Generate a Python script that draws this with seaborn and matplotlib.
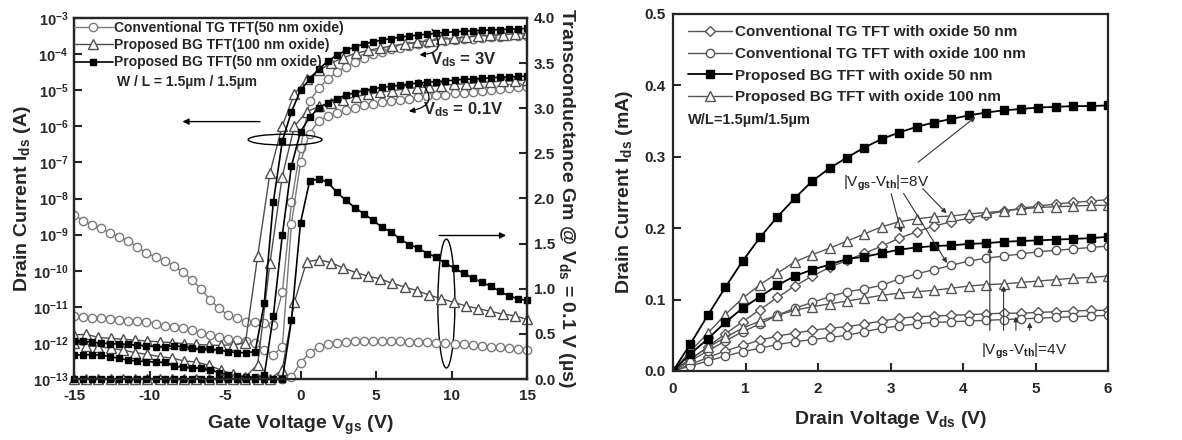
import numpy as np
import pandas as pd
import matplotlib
matplotlib.use("Agg")
import matplotlib.pyplot as plt
import seaborn as sns
from matplotlib.lines import Line2D
from matplotlib.patches import Ellipse

sns.set_theme(style="ticks")
plt.rcParams['font.family'] = ['Liberation Sans', 'DejaVu Sans']
plt.rcParams['font.weight'] = 'bold'
plt.rcParams['mathtext.fontset'] = 'custom'
plt.rcParams['mathtext.rm'] = 'Liberation Sans:bold'
plt.rcParams['mathtext.it'] = 'Liberation Sans:bold'
plt.rcParams['mathtext.bf'] = 'Liberation Sans:bold'
plt.rcParams['mathtext.sf'] = 'Liberation Sans'
plt.rcParams['axes.unicode_minus'] = False

# ---------------- Left panel data ----------------
vgs_c = np.linspace(-15, 15, 51)   # circles / squares sampling (0.6 V)
vgs_t = np.linspace(-15, 15, 38)   # triangles sampling (~0.8 V)

# log10(Ids [A])
tg_3v = [-8.46, -8.61, -8.73, -8.83, -8.95, -9.06, -9.17, -9.35, -9.5, -9.63,
         -9.72, -9.87, -10.03, -10.26, -10.5, -10.8, -11.04, -11.23, -11.32, -11.41,
         -11.43, -11.46, -11.5, -10.6, -8.1, -6.6, -5.3, -4.95, -4.7, -4.5,
         -4.35, -4.22, -4.1, -4.0, -3.93, -3.87, -3.82, -3.77, -3.73, -3.69,
         -3.66, -3.63, -3.61, -3.59, -3.57, -3.55, -3.54, -3.52, -3.51, -3.5, -3.49]
tg_01v = [-11.25, -11.27, -11.3, -11.32, -11.35, -11.37, -11.39, -11.4, -11.41, -11.47,
          -11.53, -11.56, -11.6, -11.65, -11.72, -11.77, -11.83, -11.88, -11.92, -11.96,
          -12.01, -12.2, -12.33, -12.1, -8.7, -7.0, -6.2, -5.85, -5.72, -5.63,
          -5.55, -5.48, -5.42, -5.37, -5.33, -5.29, -5.26, -5.23, -5.2, -5.17,
          -5.14, -5.12, -5.09, -5.07, -5.04, -5.02, -4.99, -4.97, -4.94, -4.92, -4.9]
bg50_3v = [-11.94, -11.96, -11.98, -12.01, -12.02, -12.03, -12.04, -12.06, -12.08, -12.1,
           -12.1, -12.08, -12.1, -12.15, -12.16, -12.17, -12.2, -12.24, -12.27, -12.27,
           -12.24, -10.9, -8.1, -6.4, -5.6, -5.0, -4.7, -4.42, -4.2, -4.03,
           -3.9, -3.8, -3.72, -3.66, -3.61, -3.57, -3.53, -3.5, -3.47, -3.45,
           -3.42, -3.4, -3.38, -3.37, -3.35, -3.34, -3.33, -3.32, -3.31, -3.3, -3.29]
bg50_01v = [-12.34, -12.33, -12.33, -12.34, -12.38, -12.43, -12.48, -12.5, -12.52, -12.53,
            -12.54, -12.64, -12.68, -12.7, -12.7, -12.75, -12.82, -12.88, -12.92, -12.94,
            -12.95, -12.9, -11.25, -9.0, -7.1, -6.15, -5.75, -5.5, -5.35, -5.23,
            -5.14, -5.07, -5.01, -4.96, -4.92, -4.89, -4.86, -4.83, -4.8, -4.78,
            -4.76, -4.74, -4.72, -4.7, -4.69, -4.67, -4.66, -4.64, -4.63, -4.62, -4.61]
bg100_3v = [-11.78, -11.76, -11.85, -11.87, -11.9, -11.92, -11.95, -11.97, -11.99, -12.02,
            -12.04, -12.06, -12.07, -12.05, -12.0, -9.6, -7.3, -6.0, -5.1, -4.7,
            -4.45, -4.25, -4.1, -3.98, -3.9, -3.83, -3.77, -3.72, -3.67, -3.63,
            -3.59, -3.56, -3.53, -3.5, -3.48, -3.46, -3.44, -3.42]
bg100_01v = [-12.01, -12.08, -12.1, -12.15, -12.2, -12.27, -12.32, -12.38, -12.42, -12.5,
             -12.53, -12.62, -12.75, -12.87, -12.94, -12.6, -9.8, -7.4, -6.0, -5.6,
             -5.45, -5.35, -5.26, -5.18, -5.11, -5.06, -5.01, -4.97, -4.93, -4.9,
             -4.87, -4.84, -4.82, -4.79, -4.77, -4.75, -4.74, -4.72]

# Transconductance Gm (uS) at Vds = 0.1 V
gm_bg50 = [0] * 24 + [0.65, 1.73, 2.19, 2.22, 2.18, 2.07, 1.98, 1.90, 1.83, 1.76,
                      1.68, 1.63, 1.55, 1.49, 1.45, 1.39, 1.35, 1.28, 1.23, 1.17,
                      1.12, 1.07, 1.03, 0.97, 0.92, 0.89, 0.87]
gm_bg100 = [0] * 17 + [0.1, 0.85, 1.3, 1.32, 1.29, 1.23, 1.18, 1.14, 1.11, 1.06,
                       1.02, 0.98, 0.93, 0.89, 0.85, 0.81, 0.78, 0.75, 0.72, 0.70, 0.66]
gm_tg = [0, 0.02, 0.18, 0.29, 0.36, 0.39, 0.40, 0.41, 0.42, 0.42,
         0.42, 0.42, 0.42, 0.42, 0.41, 0.41, 0.41, 0.40, 0.40, 0.39,
         0.39, 0.38, 0.37, 0.36, 0.35, 0.34, 0.33, 0.32]
vgs_gm_tg = vgs_c[23:]

# ---------------- Right panel data ----------------
vds = np.linspace(0, 6, 26)
tg50_8 = [0, 0.016, 0.034, 0.052, 0.069, 0.086, 0.103, 0.119, 0.133, 0.145,
          0.155, 0.165, 0.175, 0.186, 0.195, 0.203, 0.209, 0.214, 0.219, 0.224,
          0.228, 0.231, 0.234, 0.236, 0.238, 0.240]
tg100_8 = [0, 0.014, 0.028, 0.042, 0.055, 0.066, 0.078, 0.088, 0.096, 0.104,
           0.111, 0.115, 0.120, 0.129, 0.136, 0.142, 0.148, 0.154, 0.158, 0.161,
           0.164, 0.167, 0.169, 0.171, 0.173, 0.175]
bg50_8 = [0, 0.038, 0.078, 0.117, 0.154, 0.187, 0.216, 0.242, 0.266, 0.284,
          0.299, 0.313, 0.325, 0.334, 0.342, 0.348, 0.353, 0.358, 0.362, 0.365,
          0.367, 0.369, 0.370, 0.371, 0.371, 0.372]
bg100_8 = [0, 0.028, 0.053, 0.079, 0.102, 0.121, 0.137, 0.153, 0.163, 0.172,
           0.182, 0.192, 0.202, 0.209, 0.213, 0.216, 0.217, 0.220, 0.222, 0.224,
           0.227, 0.229, 0.230, 0.231, 0.232, 0.232]
tg50_4 = [0, 0.009, 0.019, 0.028, 0.036, 0.043, 0.049, 0.053, 0.057, 0.060,
          0.062, 0.066, 0.070, 0.074, 0.076, 0.077, 0.078, 0.079, 0.080, 0.081,
          0.081, 0.082, 0.083, 0.084, 0.085, 0.085]
tg100_4 = [0, 0.007, 0.014, 0.021, 0.027, 0.032, 0.037, 0.041, 0.044, 0.047,
           0.050, 0.055, 0.060, 0.063, 0.066, 0.068, 0.069, 0.070, 0.071, 0.072,
           0.073, 0.074, 0.075, 0.076, 0.077, 0.078]
bg50_4 = [0, 0.024, 0.045, 0.068, 0.088, 0.104, 0.120, 0.133, 0.142, 0.149,
          0.157, 0.160, 0.165, 0.170, 0.173, 0.175, 0.176, 0.178, 0.179, 0.181,
          0.182, 0.183, 0.184, 0.185, 0.186, 0.188]
bg100_4 = [0, 0.017, 0.033, 0.047, 0.060, 0.070, 0.078, 0.085, 0.090, 0.094,
           0.098, 0.102, 0.106, 0.109, 0.111, 0.113, 0.116, 0.119, 0.121, 0.122,
           0.124, 0.126, 0.128, 0.130, 0.131, 0.133]

left_labels = ["Conventional TG TFT(50 nm oxide)", "Proposed BG TFT(100 nm oxide)",
               "Proposed BG TFT(50 nm oxide)"]
right_labels = ["Conventional TG TFT with oxide 50 nm", "Conventional TG TFT with oxide 100 nm",
                "Proposed BG TFT with oxide 50 nm", "Proposed BG TFT with oxide 100 nm"]

# ---------------- styles ----------------
C_CIR = '#7a7a7a'
C_TRI = '#4d4d4d'
STY_L = {
    'cir': dict(marker='o', markersize=6, markerfacecolor='white', markeredgecolor=C_CIR,
                color=C_CIR, linewidth=1.0, markeredgewidth=1.0),
    'tri': dict(marker='^', markersize=6.5, markerfacecolor='white', markeredgecolor=C_TRI,
                color=C_TRI, linewidth=1.0, markeredgewidth=1.0),
    'sq': dict(marker='s', markersize=5, markerfacecolor='black', markeredgecolor='black',
               color='black', linewidth=1.2, markeredgewidth=1.0),
}
C_R = '#555555'
STY_R = {
    'dia': dict(marker='D', markersize=5.5, markerfacecolor='white', markeredgecolor=C_R,
                color=C_R, linewidth=1.0, markeredgewidth=1.0),
    'cir': dict(marker='o', markersize=6, markerfacecolor='white', markeredgecolor=C_R,
                color=C_R, linewidth=1.0, markeredgewidth=1.0),
    'sq': dict(marker='s', markersize=5.5, markerfacecolor='black', markeredgecolor='black',
               color='black', linewidth=1.3, markeredgewidth=1.0),
    'tri': dict(marker='^', markersize=6.5, markerfacecolor='white', markeredgecolor=C_R,
                color=C_R, linewidth=1.0, markeredgewidth=1.0),
}

def draw(ax, x, y, style, **extra):
    kw = dict(style)
    kw.update(extra)
    sns.lineplot(x=np.asarray(x, float), y=np.asarray(y, float), ax=ax,
                 legend=False, sort=True, **kw)

fig = plt.figure(figsize=(11.82, 4.4), dpi=100)
W, H = 1182, 440
ax1 = fig.add_axes([74 / W, 1 - 379 / H, 453 / W, 361 / H])
ax1.set_yscale('log')
ax1.set_xlim(-15, 15)
ax1.set_ylim(1e-13, 1e-3)
ax2 = ax1.twinx()
ax2.set_ylim(0, 4.0)

# transfer curves
draw(ax1, vgs_c, 10 ** np.array(tg_3v), STY_L['cir'])
draw(ax1, vgs_c, 10 ** np.array(tg_01v), STY_L['cir'])
draw(ax1, vgs_t, 10 ** np.array(bg100_3v), STY_L['tri'])
draw(ax1, vgs_t, 10 ** np.array(bg100_01v), STY_L['tri'])
draw(ax1, vgs_c, 10 ** np.array(bg50_3v), STY_L['sq'])
draw(ax1, vgs_c, 10 ** np.array(bg50_01v), STY_L['sq'])
# Gm curves
draw(ax2, vgs_gm_tg, gm_tg, STY_L['cir'], clip_on=False)
draw(ax2, vgs_t, gm_bg100, STY_L['tri'], clip_on=False)
draw(ax2, vgs_c, gm_bg50, STY_L['sq'], clip_on=False)
ax1.set_xlim(-15, 15)
ax2.set_xlim(-15, 15)
ax1.set_ylim(1e-13, 1e-3)
ax2.set_ylim(0, 4.0)

for sp in ax1.spines.values():
    sp.set_linewidth(1.6)
for sp in ax2.spines.values():
    sp.set_linewidth(1.6)
ax1.set_xticks([-15, -10, -5, 0, 5, 10, 15])
ax1.set_xticklabels(['-15', '-10', '-5', '0', '5', '10', '15'], fontsize=11, fontweight='bold')
decs = list(range(-13, -2))
ax1.set_yticks([10.0 ** d for d in decs])
ax1.set_yticklabels([r'$\mathbf{10^{%d}}$' % d for d in decs], fontsize=10.5)
ax1.yaxis.set_minor_locator(matplotlib.ticker.NullLocator())
ax1.tick_params(axis='x', which='major', direction='in', length=6, width=1.5, pad=7)
ax1.tick_params(axis='y', which='major', direction='in', length=6, width=1.5, pad=4)
ax1.tick_params(axis='y', which='minor', length=0)
ax2.set_yticks(np.arange(0, 4.01, 0.5))
ax2.set_yticklabels(['%.1f' % v for v in np.arange(0, 4.01, 0.5)], fontsize=11, fontweight='bold')
ax2.tick_params(axis='y', direction='in', length=6, width=1.5, pad=5)
ax1.grid(False)
ax2.grid(False)

ax1.set_xlabel(r'Gate Voltage V$_{\mathbf{gs}}$ (V)', fontsize=14, fontweight='bold', labelpad=8)
ax1.set_ylabel(r'Drain Current I$_{\mathbf{ds}}$ (A)', fontsize=14, fontweight='bold', labelpad=0)
ax2.set_ylabel(r'Transconductance Gm @ V$_{\mathbf{ds}}$ = 0.1 V (µs)', fontsize=14,
               fontweight='bold', rotation=270, labelpad=16)

hl = [Line2D([], [], **STY_L['cir']), Line2D([], [], **STY_L['tri']), Line2D([], [], **STY_L['sq'])]
ax2.legend(hl, left_labels, loc='upper left', bbox_to_anchor=(0.0, 0.993), frameon=False,
           borderaxespad=0, borderpad=0, handlelength=2.8, handletextpad=0.1,
           labelspacing=0.25, prop=dict(weight='bold', size=10))
ax1.text(-12.15, 10 ** -4.78, 'W / L = 1.5µm / 1.5µm', fontsize=10, fontweight='bold',
         va='center', ha='left')
ax1.text(10.75, 10 ** -4.16, r'V$_{\mathbf{ds}}$ = 3V', fontsize=12, fontweight='bold',
         ha='center', va='center')
ax1.text(10.75, 10 ** -5.55, r'V$_{\mathbf{ds}}$ = 0.1V', fontsize=12, fontweight='bold',
         ha='center', va='center')
ax1.annotate('', xy=(7.7, 10 ** -4.02), xytext=(8.6, 10 ** -3.25),
             arrowprops=dict(arrowstyle='-|>', color='black', lw=0.9, mutation_scale=8,
                             connectionstyle='arc3,rad=-1.0'))
ax1.annotate('', xy=(7.0, 10 ** -5.6), xytext=(7.7, 10 ** -4.66),
             arrowprops=dict(arrowstyle='-|>', color='black', lw=0.9, mutation_scale=8,
                             connectionstyle='arc3,rad=-1.0'))
ax1.annotate('', xy=(-8.0, 1.35e-6), xytext=(-2.5, 1.35e-6),
             arrowprops=dict(arrowstyle='-|>', color='black', lw=1.0, mutation_scale=9))
ax2.annotate('', xy=(13.8, 1.59), xytext=(9.0, 1.59),
             arrowprops=dict(arrowstyle='-|>', color='black', lw=1.0, mutation_scale=9))
ax1.add_patch(Ellipse((0.466, 0.663), 0.163, 0.03, transform=ax1.transAxes,
                      fill=False, lw=1.0, color='black', zorder=5))
ax1.add_patch(Ellipse((0.822, 0.209), 0.0375, 0.357, transform=ax1.transAxes,
                      fill=False, lw=1.0, color='black', zorder=5))

# ---------------- Right panel ----------------
ax3 = fig.add_axes([673 / W, 1 - 371 / H, 435 / W, 357 / H])
draw(ax3, vds, tg50_8, STY_R['dia'])
draw(ax3, vds, tg50_4, STY_R['dia'])
draw(ax3, vds, tg100_8, STY_R['cir'])
draw(ax3, vds, tg100_4, STY_R['cir'])
draw(ax3, vds, bg100_8, STY_R['tri'])
draw(ax3, vds, bg100_4, STY_R['tri'])
draw(ax3, vds, bg50_8, STY_R['sq'])
draw(ax3, vds, bg50_4, STY_R['sq'])
ax3.set_xlim(0, 6)
ax3.set_ylim(0, 0.5)
for sp in ax3.spines.values():
    sp.set_linewidth(1.6)
ax3.set_xticks(range(7))
ax3.set_xticklabels([str(i) for i in range(7)], fontsize=11, fontweight='bold')
ax3.set_yticks([0, 0.1, 0.2, 0.3, 0.4, 0.5])
ax3.set_yticklabels(['0.0', '0.1', '0.2', '0.3', '0.4', '0.5'], fontsize=11, fontweight='bold')
ax3.tick_params(axis='x', direction='in', length=6, width=1.5, pad=8)
ax3.tick_params(axis='y', direction='in', length=6, width=1.5, pad=5)
ax3.grid(False)
ax3.set_xlabel(r'Drain Voltage V$_{\mathbf{ds}}$ (V)', fontsize=14, fontweight='bold', labelpad=9)
ax3.set_ylabel(r'Drain Current I$_{\mathbf{ds}}$ (mA)', fontsize=14, fontweight='bold', labelpad=7)

hr = [Line2D([], [], **STY_R['dia']), Line2D([], [], **STY_R['cir']),
      Line2D([], [], **STY_R['sq']), Line2D([], [], **STY_R['tri'])]
ax3.legend(hr, right_labels, loc='upper left', bbox_to_anchor=(0.034, 0.968), frameon=False,
           borderaxespad=0, borderpad=0, handlelength=2.9, handletextpad=0.2,
           labelspacing=0.5, prop=dict(weight='bold', size=11))
ax3.text(0.2, 0.351, 'W/L=1.5µm/1.5µm', fontsize=10.5, fontweight='bold', va='center', ha='left')

ax3.text(2.35, 0.263, r'|V$_{\mathsf{gs}}$-V$_{\mathsf{th}}$|=8V', fontsize=11,
         fontweight='normal', va='center', ha='left', color='#222222')
arr = dict(arrowstyle='-|>', color='#333333', lw=0.8, mutation_scale=7)
ax3.annotate('', xy=(4.2, 0.358), xytext=(3.35, 0.29), arrowprops=arr)
ax3.annotate('', xy=(3.16, 0.19), xytext=(3.0, 0.252), arrowprops=arr)
ax3.annotate('', xy=(3.8, 0.148), xytext=(3.16, 0.252), arrowprops=arr)
ax3.annotate('', xy=(3.8, 0.218), xytext=(3.42, 0.258), arrowprops=arr)

ax3.text(4.25, 0.028, r'|V$_{\mathsf{gs}}$-V$_{\mathsf{th}}$|=4V', fontsize=11,
         fontweight='normal', va='center', ha='left', color='#222222')
for xa, ya in [(4.37, 0.177), (4.56, 0.123), (4.73, 0.080), (4.92, 0.072)]:
    ax3.annotate('', xy=(xa, ya), xytext=(xa, 0.053), arrowprops=arr)

fig.savefig('out.png', dpi=100)
